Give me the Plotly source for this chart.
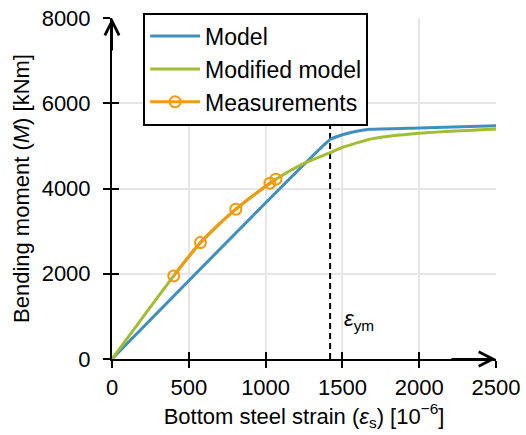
import plotly.graph_objects as go

# Data (strain in 1e-6, moment in kNm)
model_strain = [0, 1420, 1500, 1600, 1680, 2000, 2500]
model_moment = [0, 5150, 5260, 5350, 5390, 5420, 5475]

mod_strain = [0, 402, 576, 806, 1028, 1067, 1250, 1420, 1500, 1700, 2000, 2500]
mod_moment = [0, 1950, 2730, 3515, 4125, 4219, 4590, 4840, 4965, 5170, 5295, 5395]

meas_strain = [402, 576, 806, 1028, 1067]
meas_moment = [1949, 2731, 3515, 4125, 4219]

eps_ym = 1420
x_ticks = [0, 500, 1000, 1500, 2000, 2500]
y_ticks = [0, 2000, 4000, 6000, 8000]
x_range = [0, 2500]
y_range = [0, 8000]

BLUE = "#418FBE"
GREEN = "#A3BD31"
ORANGE = "#F39A0F"
FONT = "Liberation Sans, Arial, sans-serif"

fig = go.Figure()

fig.add_trace(go.Scatter(x=[eps_ym, eps_ym], y=y_range, mode="lines",
                         line=dict(color="black", width=2, dash="6px,4px"),
                         showlegend=False, hoverinfo="skip"))
fig.add_trace(go.Scatter(x=model_strain, y=model_moment, mode="lines", name="Model",
                         line=dict(color=BLUE, width=3, shape="spline", smoothing=0.3)))
fig.add_trace(go.Scatter(x=mod_strain, y=mod_moment, mode="lines", name="Modified model",
                         line=dict(color=GREEN, width=3, shape="spline", smoothing=0.6)))
fig.add_trace(go.Scatter(x=meas_strain, y=meas_moment, mode="lines+markers", name="Measurements",
                         line=dict(color=ORANGE, width=3, shape="spline"),
                         marker=dict(symbol="circle-open", size=11, color=ORANGE,
                                     line=dict(width=2, color=ORANGE))))
# invisible trace to carry overlay axes (inside halves of crossing ticks)
fig.add_trace(go.Scatter(x=[None], y=[None], xaxis="x2", yaxis="y2",
                         showlegend=False, hoverinfo="skip"))

axis_common = dict(showline=True, linecolor="black", linewidth=2, automargin=False,
                   ticks="outside", ticklen=7, tickwidth=2, tickcolor="black",
                   showgrid=True, gridcolor="#E6E6E6", gridwidth=2,
                   zeroline=False, tickfont=dict(size=22, color="black", family=FONT))

fig.update_layout(
    width=526, height=435,
    margin=dict(l=112, r=30, t=18, b=76),
    paper_bgcolor="white", plot_bgcolor="white",
    font=dict(family=FONT, size=22, color="black"),
    xaxis=dict(range=x_range, tickvals=x_ticks, ticklabelstandoff=1,
               title=dict(text="Bottom steel strain (<i>ε</i><sub>s</sub>) [10<sup>−6</sup>]",
                          font=dict(size=22), standoff=2),
               **axis_common),
    yaxis=dict(range=y_range, tickvals=y_ticks, ticklabelstandoff=8,
               title=dict(text="Bending moment (<i>M</i>) [kNm]", font=dict(size=22), standoff=6),
               **axis_common),
    xaxis2=dict(range=x_range, tickvals=x_ticks, overlaying="x", anchor="y2", automargin=False,
                ticks="inside", ticklen=7, tickwidth=2, tickcolor="black",
                showticklabels=False, showgrid=False, showline=False, zeroline=False),
    yaxis2=dict(range=y_range, tickvals=y_ticks, overlaying="y", anchor="x2", automargin=False,
                ticks="inside", ticklen=7, tickwidth=2, tickcolor="black",
                showticklabels=False, showgrid=False, showline=False, zeroline=False),
    legend=dict(x=0.081, y=1.016, xanchor="left", yanchor="top",
                bgcolor="white", bordercolor="black", borderwidth=2,
                font=dict(size=23, family=FONT, color="black"),
                itemwidth=50, tracegroupgap=0),
    showlegend=True,
)

# axis arrows
fig.add_annotation(x=x_range[1], y=0, ax=x_range[1] - 300, ay=0, xref="x", yref="y",
                   axref="x", ayref="y", text="", showarrow=True, arrowhead=5,
                   arrowsize=1.4, arrowwidth=2, arrowcolor="black", standoff=0)
fig.add_annotation(x=0, y=y_range[1], ax=0, ay=y_range[1] - 800, xref="x", yref="y",
                   axref="x", ayref="y", text="", showarrow=True, arrowhead=5,
                   arrowsize=1.4, arrowwidth=2, arrowcolor="black", standoff=0)

fig.add_annotation(x=1500, y=920, xref="x", yref="y", xanchor="left", yanchor="middle",
                   text="<i>ε</i><sub>ym</sub>", showarrow=False,
                   font=dict(size=22, family=FONT, color="black"))

fig.write_html("out.html", config={"displayModeBar": False},
               post_script="document.body.style.margin='0';")
